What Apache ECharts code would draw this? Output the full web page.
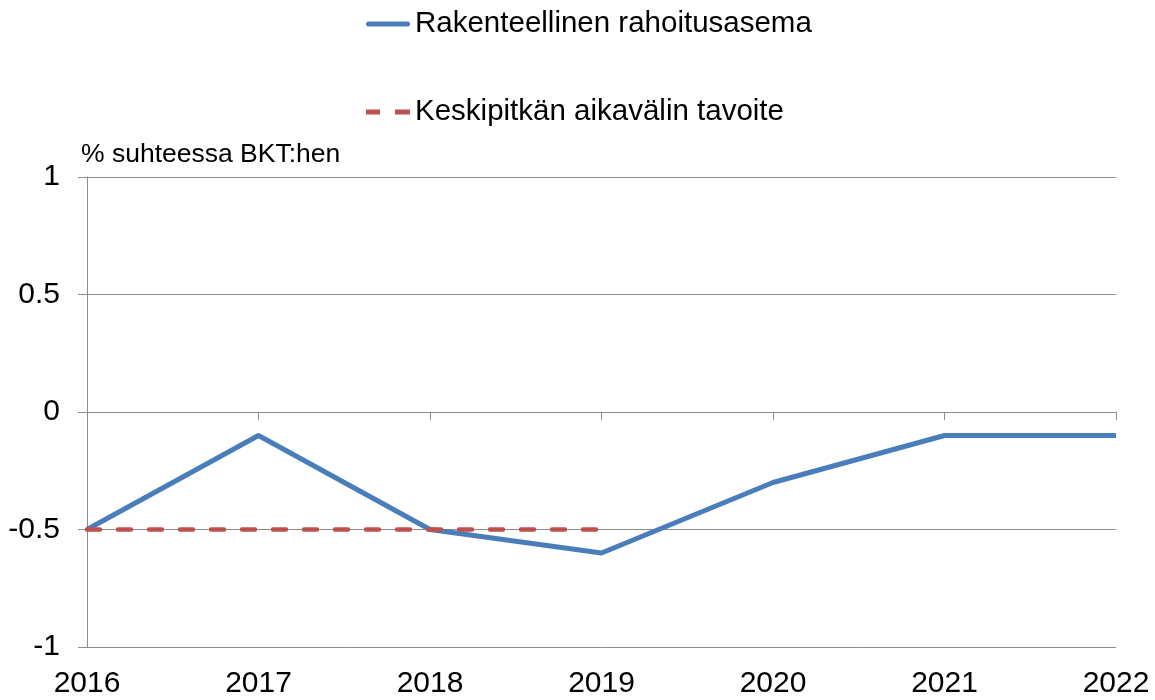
<!DOCTYPE html>
<html>
<head>
<meta charset="utf-8">
<script src="https://cdn.jsdelivr.net/npm/echarts@6/dist/echarts.min.js"></script>
<style>
  html, body { margin: 0; padding: 0; background: #fff; }
  #chart { width: 1155px; height: 700px; }
</style>
</head>
<body>
<div id="chart"></div>
<script>
const years = ["2016", "2017", "2018", "2019", "2020", "2021", "2022"];
const rakenteellinen = [-0.5, -0.1, -0.5, -0.6, -0.3, -0.1, -0.1];
const tavoite = [-0.5, -0.5, -0.5, -0.5, null, null, null];
const yTicks = [-1, -0.5, 0, 0.5, 1];

const font = "'Liberation Sans', Arial, sans-serif";
const gray = "#8c8c8c";
const blue = "#4a7ebb";
const red = "#c0504d";

// legend icons: a solid bar and two dashes
const solidIcon = "path://M2.5,0h39a2.5,2.5 0 0 1 0,5h-39a2.5,2.5 0 0 1 0,-5z";
const dashIcon = "path://M0,0h14v5h-14z M29,0h15v5h-15z";

const chart = echarts.init(document.getElementById("chart"));

chart.setOption({
  animation: false,
  textStyle: { fontFamily: font, color: "#000" },
  legend: {
    orient: "vertical",
    left: 361,
    top: 2,
    itemGap: 54,
    itemWidth: 44,
    itemHeight: 5,
    textStyle: { fontSize: 29.5, color: "#000", lineHeight: 34, fontFamily: font },
    data: [
      { name: "Rakenteellinen rahoitusasema", icon: solidIcon },
      { name: "Keskipitkän aikavälin tavoite", icon: dashIcon },
    ],
  },
  grid: { left: 87, right: 39, top: 177, bottom: 53, containLabel: false },
  xAxis: [
    {
      type: "category",
      data: years,
      boundaryGap: false,
      position: "bottom",
      axisLine: { show: false, onZero: false },
      axisTick: { show: false },
      axisLabel: { fontSize: 30, color: "#000", margin: 22, fontFamily: font },
      splitLine: { show: false },
    },
    {
      type: "category",
      data: years,
      boundaryGap: false,
      position: "bottom",
      axisLine: { show: true, onZero: true, lineStyle: { color: gray, width: 1 } },
      axisTick: { show: true, length: 8, lineStyle: { color: gray } },
      axisLabel: { show: false },
      splitLine: { show: false },
    },
  ],
  yAxis: {
    type: "value",
    min: yTicks[0],
    max: yTicks[yTicks.length - 1],
    interval: 0.5,
    name: "% suhteessa BKT:hen",
    nameLocation: "end",
    nameGap: 9,
    nameTextStyle: { fontSize: 26.5, color: "#000", align: "left", padding: [0, 0, 0, -6], fontFamily: font },
    axisLine: { show: true, lineStyle: { color: gray, width: 1 } },
    axisTick: { show: true, length: 9, lineStyle: { color: gray } },
    axisLabel: { fontSize: 30, color: "#000", margin: 27, fontFamily: font },
    splitLine: { show: true, lineStyle: { color: gray, width: 1 } },
  },
  series: [
    {
      name: "Rakenteellinen rahoitusasema",
      type: "line",
      xAxisIndex: 0,
      data: rakenteellinen,
      showSymbol: false,
      symbol: "none",
      color: blue,
      lineStyle: { color: blue, width: 5 },
    },
    {
      name: "Keskipitkän aikavälin tavoite",
      type: "line",
      xAxisIndex: 0,
      data: tavoite,
      showSymbol: false,
      symbol: "none",
      color: red,
      lineStyle: { color: red, width: 4.5, type: [13, 18], cap: "round" },
    },
  ],
});
</script>
</body>
</html>
